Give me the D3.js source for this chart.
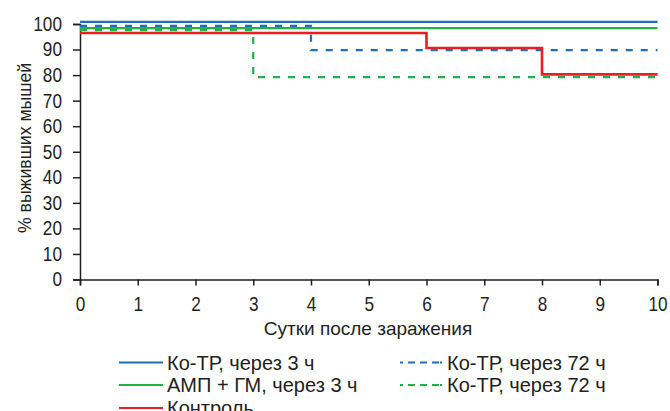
<!DOCTYPE html>
<html>
<head>
<meta charset="utf-8">
<script src="https://cdn.jsdelivr.net/npm/d3@7"></script>
<style>
  body { margin: 0; background: #fff; }
  svg { display: block; font-family: "Liberation Sans", Arial, sans-serif; }
</style>
</head>
<body>
<svg id="chart"></svg>
<script>
const w = 670;
const h = 411;
const fontFam = "'Liberation Sans', Arial, sans-serif";
const ink = "#231f20";

// step-after survival curves
const koTr3Days = [0, 10];
const koTr3Values = [100.8, 100.8];
const ampGmDays = [0, 10];
const ampGmValues = [98.4, 98.4];
const koTr72BlueDays = [0, 4, 10];
const koTr72BlueValues = [99.3, 89.8, 89.8];
const koTr72GreenDays = [0, 3, 10];
const koTr72GreenValues = [97.6, 79.2, 79.2];
const controlDays = [0, 6, 8, 10];
const controlValues = [96.5, 90.6, 80.3, 80.3];

const xTicks = [0, 1, 2, 3, 4, 5, 6, 7, 8, 9, 10];
const yTicks = [0, 10, 20, 30, 40, 50, 60, 70, 80, 90, 100];

const series = [
  { name: "Ко-ТР, через 3 ч", days: koTr3Days, values: koTr3Values, color: "#1c6fb8", dash: null, width: 2.2 },
  { name: "АМП + ГМ, через 3 ч", days: ampGmDays, values: ampGmValues, color: "#22b04b", dash: null, width: 2.2 },
  { name: "Ко-ТР, через 72 ч", days: koTr72BlueDays, values: koTr72BlueValues, color: "#1c6fb8", dash: "7,8", width: 2.2 },
  { name: "Ко-ТР, через 72 ч", days: koTr72GreenDays, values: koTr72GreenValues, color: "#22b04b", dash: "7,8", width: 2.2 },
  { name: "Контроль", days: controlDays, values: controlValues, color: "#ee1c24", dash: null, width: 2.6 }
];

const svg = d3.select("#chart")
  .attr("width", w)
  .attr("height", h)
  .attr("viewBox", [0, 0, w, h]);

const x = d3.scaleLinear().domain([0, 10]).range([80, 657.5]);
const y = d3.scaleLinear().domain([0, 100]).range([279.5, 24]);

function styleAxis(g) {
  g.select(".domain").attr("stroke", ink).attr("stroke-width", 1.5);
  g.selectAll(".tick line").attr("stroke", ink).attr("stroke-width", 1.5);
  g.selectAll("text")
    .attr("font-size", 20)
    .attr("fill", ink)
    .attr("font-family", fontFam)
    .attr("transform", "scale(0.86,1)");
}

// axes
const xAxis = svg.append("g")
  .attr("transform", `translate(0,${y(0)})`)
  .call(d3.axisBottom(x).tickValues(xTicks).tickSize(6).tickPadding(11.5).tickFormat(d3.format("d")));
styleAxis(xAxis);

const yAxis = svg.append("g")
  .attr("transform", `translate(${x(0)},0)`)
  .call(d3.axisLeft(y).tickValues(yTicks).tickSize(7).tickPadding(14).tickFormat(d3.format("d")));
styleAxis(yAxis);

svg.append("text")
  .attr("transform", "translate(31,148) rotate(-90) scale(0.93,1)")
  .attr("text-anchor", "middle")
  .attr("font-size", 19)
  .attr("fill", ink)
  .text("% выживших мышей");

svg.append("text")
  .attr("x", 368)
  .attr("y", 335)
  .attr("text-anchor", "middle")
  .attr("font-size", 19)
  .attr("fill", ink)
  .text("Сутки после заражения");

// curves
const line = d3.line()
  .x(d => x(d[0]))
  .y(d => y(d[1]))
  .curve(d3.curveStepAfter);

svg.append("g")
  .selectAll("path")
  .data(series)
  .enter()
  .append("path")
  .attr("d", d => line(d.days.map((day, i) => [day, d.values[i]])))
  .attr("fill", "none")
  .attr("stroke", d => d.color)
  .attr("stroke-width", d => d.width)
  .attr("stroke-dasharray", d => d.dash);

// legend: left column solid, right column dashed
const legendPos = [
  { x: 119, y: 362.5 },
  { x: 119, y: 385 },
  { x: 400, y: 362.5 },
  { x: 400, y: 385 },
  { x: 119, y: 408 }
];

const legend = svg.append("g")
  .selectAll("g")
  .data(series)
  .enter()
  .append("g")
  .attr("transform", (d, i) => `translate(${legendPos[i].x},${legendPos[i].y})`);

legend.append("line")
  .attr("x1", 0)
  .attr("x2", d => d.dash ? 42 : 44)
  .attr("y1", 0)
  .attr("y2", 0)
  .attr("stroke", d => d.color)
  .attr("stroke-width", 2.2)
  .attr("stroke-dasharray", d => d.dash ? "3,5,7,5,7,5,7,1,2" : null);

legend.append("text")
  .attr("x", d => d.dash ? 47 : 48)
  .attr("y", 7)
  .attr("font-size", 20)
  .attr("fill", ink)
  .text(d => d.name);
</script>
</body>
</html>
